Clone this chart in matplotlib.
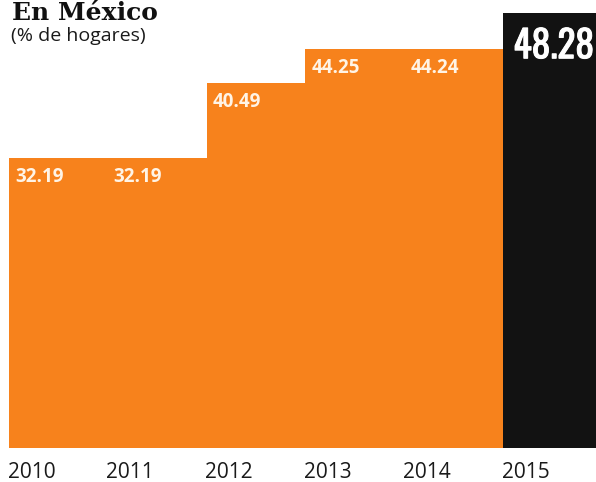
import matplotlib.pyplot as plt
import matplotlib.patheffects as pe

years = ['2010', '2011', '2012', '2013', '2014', '2015']
hogares = [32.19, 32.19, 40.49, 44.25, 44.24, 48.28]
value_labels = ['32.19', '32.19', '40.49', '44.25', '44.24', '48.28']

orange = '#F7821C'
dark = '#121212'
colors = [orange] * 5 + [dark]

fig = plt.figure(figsize=(5.96, 4.82), dpi=100)
# axes from bar-left edge to right border, baseline at y=448px
ax = fig.add_axes([9 / 596, 34 / 482, 1 - 9 / 596, 446 / 482])
ax.set_xlim(0, 5.94)
ax.set_ylim(0, 49.5)
ax.axis('off')

x = list(range(len(years)))
ax.bar(x, hogares, width=1.0, align='edge', color=colors, linewidth=0)

for i, (v, lab) in enumerate(zip(hogares, value_labels)):
    if i < 5:
        ax.annotate(lab, (i, v), xytext=(4.3, -6.5), textcoords='offset points',
                    ha='left', va='top', fontsize=13.5, fontweight='bold',
                    color='#FFF4E6', family=['Open Sans', 'DejaVu Sans'])
    else:
        # last year highlighted, condensed numerals (light stroke to thicken)
        ax.annotate(lab, (i, v), xytext=(7.5, -11), textcoords='offset points',
                    ha='left', va='top', fontsize=27, fontweight='bold',
                    color='white',
                    family=['Oswald', 'Roboto Condensed', 'DejaVu Sans'],
                    path_effects=[pe.withStroke(linewidth=0.7, foreground='white')])

for i, yr in enumerate(years):
    ax.annotate(yr, (i, 0), xytext=(-1, -10), textcoords='offset points',
                ha='left', va='top', fontsize=15, color='#1a1a1a',
                family=['Open Sans', 'DejaVu Sans'])

fig.text(12 / 596, 1 - 1 / 482, 'En México', ha='left', va='top',
         fontsize=18, fontweight='bold', family=['DejaVu Serif'], color='#111111')
fig.text(11 / 596, 1 - 27 / 482, '(% de hogares)', ha='left', va='top',
         fontsize=14, family=['Open Sans', 'DejaVu Sans'], color='#1a1a1a')

fig.savefig('out.png', dpi=100)
